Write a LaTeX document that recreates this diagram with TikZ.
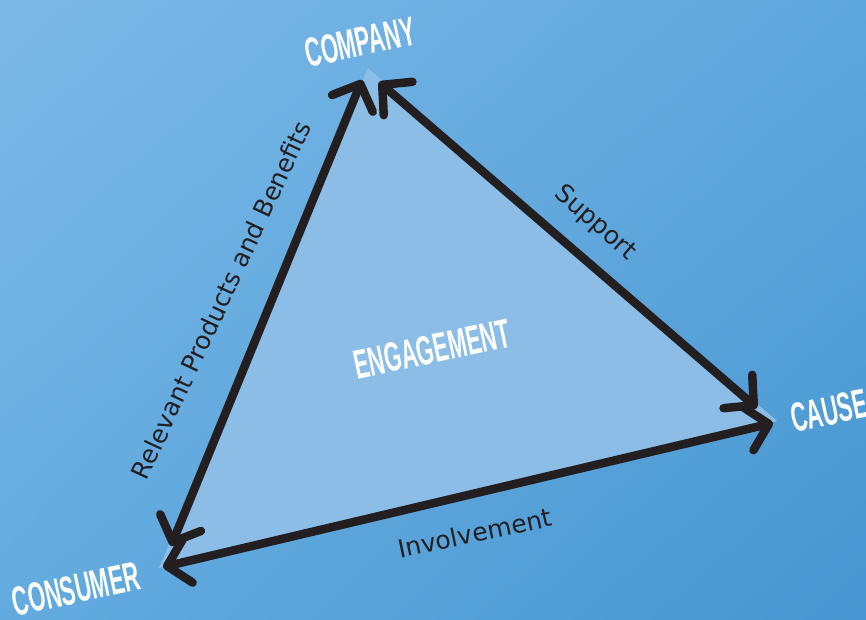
\documentclass[tikz,border=0pt]{standalone}
\usepackage{fontspec}
\setmainfont{DejaVu Sans}
\newfontfamily\condfont[FakeStretch=0.54]{Liberation Sans Bold}
\usetikzlibrary{arrows.meta,shadings}
\definecolor{bgUL}{HTML}{7DB9E8}
\definecolor{bgUR}{HTML}{5EA7DD}
\definecolor{bgLL}{HTML}{63ABDF}
\definecolor{bgLR}{HTML}{4796D1}
\definecolor{trifill}{HTML}{8BBDE7}
\definecolor{arrowink}{HTML}{231F20}
\tikzset{
  vertexlabel/.style={text=white, font=\condfont\fontsize{41}{41}\selectfont, inner sep=0pt, rotate=12},
  edgelabel/.style={text=arrowink, font=\fontsize{25}{25}\selectfont, inner sep=0pt},
  link/.style={draw=arrowink, line width=8.5pt, line cap=round,
    {Straight Barb[length=21pt,width=44pt,round]}-{Straight Barb[length=21pt,width=44pt,round]}}
}
\begin{document}
\begin{tikzpicture}[x=1pt,y=-1pt]
\useasboundingbox (0,0) rectangle (866,619);
\shade[upper left=bgUL, upper right=bgUR, lower left=bgLL, lower right=bgLR] (0,0) rectangle (866,619);
% triangle vertices
\coordinate (A) at (368,68);
\coordinate (B) at (777,421);
\coordinate (C) at (159,568);
\fill[trifill] (A) -- (B) -- (C) -- cycle;
% arrow ends
\coordinate (lt) at (362,80);
\coordinate (lb) at (171,546);
\coordinate (rt) at (379,82);
\coordinate (rb) at (757,408);
\coordinate (bl) at (163,567);
\coordinate (br) at (773,423);
\draw[link] (lb) -- (lt);
\draw[link] (rt) -- (rb);
\draw[link] (bl) -- (br);
% labels
\node[vertexlabel] (company) at (360,42) {COMPANY};
\node[vertexlabel] (cause) at (829,411) {CAUSE};
\node[vertexlabel] (consumer) at (76,589) {CONSUMER};
\node[vertexlabel] (engagement) at (432,349) {ENGAGEMENT};
\node[edgelabel, rotate=65] (rpb) at (221,300) {Relevant Products and Benefits};
\node[edgelabel, rotate=-41] (support) at (595,223) {Support};
\node[edgelabel, rotate=12] (involvement) at (475,533) {Involvement};
\end{tikzpicture}
\end{document}
